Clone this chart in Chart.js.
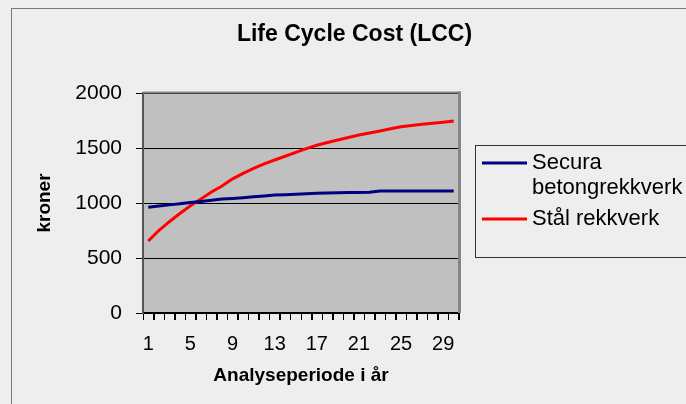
<!DOCTYPE html>
<html>
<head>
<meta charset="utf-8">
<script src="https://cdn.jsdelivr.net/npm/chart.js@4/dist/chart.umd.min.js"></script>
<style>
html,body{margin:0;padding:0;background:#eeeeee;}
canvas{display:block;}
</style>
</head>
<body>
<canvas id="c" width="686" height="404"></canvas>
<script>
const chartTitle = 'Life Cycle Cost (LCC)';
const xTitle = 'Analyseperiode i år';
const yTitle = 'kroner';
const years = ['1','2','3','4','5','6','7','8','9','10','11','12','13','14','15','16','17','18','19','20','21','22','23','24','25','26','27','28','29','30'];
const securaLegend = ['Secura', 'betongrekkverk'];
const staalLegend = ['Stål rekkverk'];
const securaValues = [961, 972, 983, 993, 1004, 1014, 1025, 1036, 1042, 1048, 1056, 1064, 1072, 1075, 1080, 1084, 1088, 1092, 1094, 1095, 1096, 1097, 1108, 1108, 1108, 1108, 1108, 1108, 1108, 1108];
const staalValues = [654, 750, 830, 905, 975, 1036, 1100, 1155, 1220, 1270, 1315, 1355, 1391, 1425, 1461, 1495, 1525, 1550, 1573, 1595, 1618, 1637, 1655, 1675, 1694, 1705, 1715, 1725, 1735, 1745];
const yTicks = [0, 500, 1000, 1500, 2000];

const FONT = "'Liberation Sans', Arial, sans-serif";

const decorPlugin = {
  id: 'decor',
  beforeDraw(chart) {
    const {ctx, chartArea: a} = chart;
    ctx.save();
    ctx.fillStyle = '#eeeeee';
    ctx.fillRect(0, 0, chart.width, chart.height);
    ctx.strokeStyle = '#7a7a7a';
    ctx.lineWidth = 1;
    ctx.strokeRect(11.5, 8.5, 720, 440);
    ctx.fillStyle = '#c0c0c0';
    ctx.fillRect(a.left, a.top, a.right - a.left, a.bottom - a.top);
    ctx.restore();
  },
  beforeDatasetsDraw(chart) {
    const {ctx, chartArea: a} = chart;
    ctx.save();
    ctx.fillStyle = '#858585';
    ctx.fillRect(a.left, a.top - 1.5, a.right - a.left + 2, 2);
    ctx.fillRect(a.right - 1, a.top - 1.5, 3, a.bottom - a.top + 1.5);
    ctx.restore();
  },
  afterDatasetsDraw(chart) {
    const {ctx} = chart;
    ctx.save();
    ctx.strokeStyle = '#333333';
    ctx.lineWidth = 1;
    ctx.strokeRect(475.5, 145.5, 300, 112);
    const groups = [securaLegend, staalLegend];
    const rowY = [163, 219];
    ctx.font = '22px ' + FONT;
    ctx.textBaseline = 'middle';
    ctx.textAlign = 'left';
    chart.data.datasets.forEach((ds, i) => {
      const y = rowY[i];
      ctx.strokeStyle = ds.borderColor;
      ctx.lineWidth = 3;
      ctx.beginPath();
      ctx.moveTo(482, y);
      ctx.lineTo(527, y);
      ctx.stroke();
      ctx.fillStyle = '#000000';
      groups[i].forEach((line, j) => {
        ctx.fillText(line, 532, y + j * 25);
      });
    });
    ctx.restore();
  },
  afterDraw(chart) {
    // category boundary tick marks below the x axis, taken from the x scale
    const {ctx, chartArea: a} = chart;
    const xs = chart.scales.x;
    const n = years.length;
    const half = (xs.getPixelForTick(1) - xs.getPixelForTick(0)) / 2;
    ctx.save();
    ctx.strokeStyle = '#000000';
    ctx.lineWidth = 1;
    ctx.beginPath();
    for (let i = 0; i <= n; i++) {
      const px = i < n ? xs.getPixelForTick(i) - half : xs.getPixelForTick(n - 1) + half;
      const x = Math.round(px) + 0.5;
      ctx.moveTo(x, a.bottom + 1);
      ctx.lineTo(x, a.bottom + 7);
    }
    ctx.stroke();
    ctx.restore();
  }
};

new Chart(document.getElementById('c'), {
  type: 'line',
  data: {
    labels: years,
    datasets: [
      { label: securaLegend.join(' '), data: securaValues, borderColor: '#000080', borderWidth: 3, pointRadius: 0, tension: 0, fill: false },
      { label: staalLegend.join(' '), data: staalValues, borderColor: '#ff0000', borderWidth: 3, pointRadius: 0, tension: 0, fill: false }
    ]
  },
  options: {
    responsive: false,
    animation: false,
    devicePixelRatio: 1,
    layout: { padding: { left: 23, right: 0, top: 0, bottom: 0 } },
    plugins: {
      legend: { display: false },
      tooltip: { enabled: false },
      title: { display: true, text: chartTitle, color: '#000000', font: { family: FONT, size: 23, weight: 'bold', lineHeight: 1.2 }, padding: { top: 21, bottom: 44.4 } }
    },
    scales: {
      x: {
        type: 'category',
        offset: true,
        grid: { display: true, drawOnChartArea: false, drawTicks: true, offset: true, color: '#000000', tickColor: '#000000', tickWidth: 1, tickLength: 7, lineWidth: 1 },
        border: { display: true, color: '#000000', width: 2 },
        ticks: { autoSkip: false, maxRotation: 0, color: '#000000', padding: 12, font: { family: FONT, size: 20 }, callback: (v, i) => (i % 4 === 0 ? years[i] : '') },
        title: { display: true, text: xTitle, color: '#000000', font: { family: FONT, size: 19, weight: 'bold', lineHeight: 1.2 }, padding: { top: 0, bottom: 16.6 } },
        afterFit(scale) { scale.height = 91; }
      },
      y: {
        type: 'linear', position: 'left', min: yTicks[0], max: yTicks[yTicks.length - 1],
        afterBuildTicks(scale) { scale.ticks = yTicks.map(v => ({ value: v })); },
        grid: { color: '#000000', tickColor: '#000000', tickLength: 7, lineWidth: 1 },
        border: { display: true, color: '#555555', width: 2 },
        ticks: { color: '#000000', padding: 14, font: { family: FONT, size: 21 }, callback: (v) => String(v) },
        title: { display: true, text: yTitle, color: '#000000', font: { family: FONT, size: 19, weight: 'bold', lineHeight: 1.2 }, padding: { top: 10.6, bottom: 0 } },
        afterFit(scale) { scale.width = 120; }
      },
      yRight: {
        type: 'linear', position: 'right', axis: 'y',
        grid: { display: false, drawOnChartArea: false }, border: { display: false }, ticks: { display: false }, title: { display: false },
        afterFit(scale) { scale.width = 227; }
      }
    }
  },
  plugins: [decorPlugin]
});
</script>
</body>
</html>
